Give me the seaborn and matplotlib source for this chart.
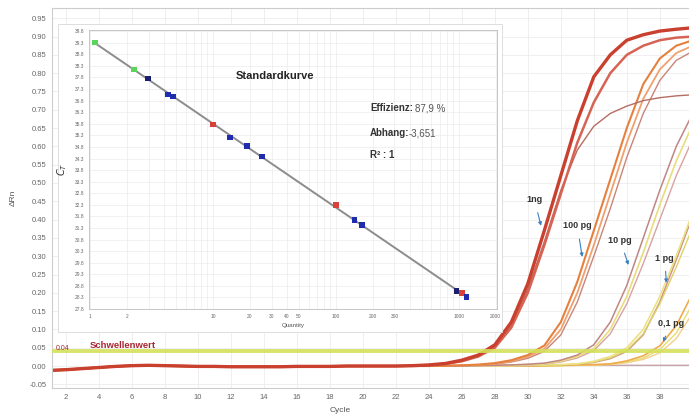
import matplotlib
matplotlib.use("Agg")
import pandas as pd
import matplotlib.pyplot as plt
from matplotlib.patches import Rectangle
import seaborn as sns

# ---------- amplification data (delta Rn per cycle) ----------
cycles = list(range(1, 41))
# cycles 1-22, common to all wells
baseline = [-0.012, -0.010, -0.007, -0.004, -0.001, 0.001, 0.002, 0.001, 0.0, -0.001, -0.001,
            -0.002, -0.002, -0.002, -0.002, -0.001, -0.001, -0.001, 0.0, 0.0, 0.0, 0.0]
# cycles 23-40
ng1_a = [0.001, 0.003, 0.007, 0.016, 0.030, 0.058, 0.12, 0.225, 0.37, 0.52, 0.67, 0.79, 0.85, 0.89, 0.905, 0.915, 0.92, 0.924]
ng1_b = [0.001, 0.002, 0.006, 0.013, 0.026, 0.050, 0.105, 0.20, 0.33, 0.47, 0.61, 0.72, 0.80, 0.85, 0.875, 0.89, 0.897, 0.90]
ng1_c = [0.001, 0.003, 0.007, 0.015, 0.028, 0.052, 0.11, 0.21, 0.34, 0.48, 0.59, 0.655, 0.69, 0.71, 0.725, 0.733, 0.738, 0.741]
pg100_a = [0.0, 0.0, 0.001, 0.002, 0.004, 0.008, 0.016, 0.030, 0.056, 0.12, 0.23, 0.37, 0.51, 0.65, 0.77, 0.84, 0.875, 0.89]
pg100_b = [0.0, 0.0, 0.001, 0.002, 0.003, 0.006, 0.013, 0.025, 0.047, 0.10, 0.20, 0.33, 0.47, 0.61, 0.73, 0.81, 0.855, 0.875]
pg100_c = [0.0, 0.0, 0.001, 0.001, 0.003, 0.005, 0.011, 0.021, 0.040, 0.085, 0.175, 0.30, 0.43, 0.57, 0.69, 0.78, 0.835, 0.86]
pg10_a = [0.0, 0.0, 0.0, 0.0, 0.001, 0.002, 0.003, 0.005, 0.008, 0.016, 0.030, 0.058, 0.12, 0.22, 0.35, 0.48, 0.60, 0.69]
pg10_b = [0.0, 0.0, 0.0, 0.0, 0.0, 0.001, 0.002, 0.004, 0.006, 0.013, 0.026, 0.048, 0.10, 0.19, 0.31, 0.44, 0.56, 0.66]
pg10_c = [0.0, 0.0, 0.0, 0.0, 0.0, 0.001, 0.002, 0.003, 0.005, 0.011, 0.022, 0.042, 0.088, 0.17, 0.28, 0.40, 0.52, 0.62]
pg1_a = [0.0, 0.0, 0.0, 0.0, 0.0, 0.0, 0.001, 0.002, 0.003, 0.004, 0.006, 0.013, 0.026, 0.050, 0.10, 0.19, 0.30, 0.42]
pg1_b = [0.0, 0.0, 0.0, 0.0, 0.0, 0.0, 0.0, 0.001, 0.002, 0.003, 0.005, 0.011, 0.022, 0.043, 0.088, 0.17, 0.27, 0.38]
pg1_c = [0.0, 0.0, 0.0, 0.0, 0.0, 0.0, 0.0, 0.001, 0.002, 0.003, 0.005, 0.010, 0.020, 0.040, 0.085, 0.175, 0.29, 0.41]
pg01_a = [0.0, 0.0, 0.0, 0.0, 0.0, 0.0, 0.0, 0.0, 0.001, 0.002, 0.003, 0.004, 0.006, 0.014, 0.028, 0.055, 0.11, 0.20]
pg01_b = [0.0, 0.0, 0.0, 0.0, 0.0, 0.0, 0.0, 0.0, 0.0, 0.001, 0.002, 0.003, 0.005, 0.011, 0.022, 0.045, 0.09, 0.17]
pg01_c = [0.0, 0.0, 0.0, 0.0, 0.0, 0.0, 0.0, 0.0, 0.0, 0.001, 0.002, 0.003, 0.004, 0.009, 0.018, 0.036, 0.075, 0.145]
ntc = [0.0, 0.0, 0.001, 0.001, 0.001, 0.002, 0.002, 0.002, 0.002, 0.002, 0.002, 0.002, 0.002, 0.002, 0.002, 0.002, 0.002, 0.002]

threshold = 0.04

# ---------- standard curve (inset) ----------
quantity = [1.1, 2.28, 2.97, 4.31, 4.73, 10, 13.7, 18.9, 25.0, 100, 142, 164, 958, 1060, 1160]
ct = [39.31, 38.14, 37.76, 37.07, 36.98, 35.77, 35.21, 34.83, 34.39, 32.28, 31.64, 31.42, 28.58, 28.49, 28.32]
point_kind = ["g", "g", "n", "b", "b", "r", "b", "b", "b", "r", "b", "b", "n", "r", "b"]
inset_xticks = [1, 2, 10, 20, 30, 40, 50, 100, 200, 300, 1000, 2000]
inset_yticks = [27.8 + 0.5 * i for i in range(25)]

sns.set_style("white")
plt.rcParams["font.family"] = ["Liberation Sans", "DejaVu Sans"]

curves = [
    ("ntc", ntc, "#c9a3ab", 1.0),
    ("pg01_c", pg01_c, "#f3cf8e", 1.0),
    ("pg01_b", pg01_b, "#e8dc70", 1.0),
    ("pg01_a", pg01_a, "#efab4c", 1.2),
    ("pg1_c", pg1_c, "#cf8c80", 1.0),
    ("pg1_b", pg1_b, "#dcd16a", 1.0),
    ("pg1_a", pg1_a, "#ebe283", 1.2),
    ("pg10_c", pg10_c, "#d9a2a2", 1.0),
    ("pg10_b", pg10_b, "#e7dd7d", 1.2),
    ("pg10_a", pg10_a, "#c08585", 1.1),
    ("pg100_c", pg100_c, "#c98579", 1.0),
    ("pg100_b", pg100_b, "#f0a06e", 1.3),
    ("pg100_a", pg100_a, "#e5803f", 1.5),
    ("ng1_c", ng1_c, "#b56d63", 1.0),
    ("ng1_b", ng1_b, "#d66353", 1.8),
    ("ng1_a", ng1_a, "#c9402f", 2.4),
]

rows = []
for name, vals, col, lw in curves:
    for c, v in zip(cycles, baseline + vals):
        rows.append({"curve": name, "cycle": c, "dRn": v})
df = pd.DataFrame(rows)

fig = plt.figure(figsize=(6.89, 4.15), dpi=100)
ax = fig.add_axes([52 / 689, 27 / 415, 649 / 689, 380 / 415])

for name, vals, col, lw in curves:
    sns.lineplot(data=df[df["curve"] == name], x="cycle", y="dRn", color=col, lw=lw, ax=ax)

ax.axhline(threshold, color="#d3e05a", lw=2.8, alpha=0.9, zorder=3)

ax.set_xlim(1.15, 40.5)
ax.set_ylim(-0.06, 0.978)
ax.set_xticks(range(2, 39, 2))
ax.set_yticks([i * 0.05 for i in range(-1, 20)])
ax.set_yticklabels([f"{i * 0.05:.2f}" for i in range(-1, 20)])
ax.tick_params(labelsize=5.5, colors="#666666", length=2, width=0.5, pad=2)
ax.grid(True, color="#ececec", lw=0.6)
for s in ax.spines.values():
    s.set_color("#cccccc")
    s.set_linewidth(0.8)
ax.set_xlabel("Cycle", fontsize=6, color="#555555")
ax.set_ylabel("ΔRn", fontsize=6, color="#555555")
ax.xaxis.set_label_coords((340 - 52) / 649, -0.05)
ax.yaxis.set_label_coords(-0.055, 0.5)

ax.text(3.45, 0.056, "Schwellenwert", color="#a82630", fontsize=6.8, fontweight="bold", va="center")
ax.text(1.4, 0.047, "0.04", color="#a82630", fontsize=5, va="center")

arrow = dict(arrowstyle="-|>", color="#3d80c2", lw=0.8, mutation_scale=5, shrinkA=4, shrinkB=0)
labels = [("1ng", (30.8, 0.383), (30.4, 0.455)),
          ("100 pg", (33.3, 0.298), (33.0, 0.383)),
          ("10 pg", (36.1, 0.276), (35.6, 0.344)),
          ("1 pg", (38.4, 0.227), (38.3, 0.295)),
          ("0,1 pg", (38.2, 0.066), (38.7, 0.117))]
for txt, tip, pos in labels:
    ax.annotate(txt, xy=tip, xytext=pos, fontsize=6.5, fontweight="bold", color="#333333",
                ha="center", va="center", arrowprops=arrow, zorder=6)

# white panel behind the inset
fig.add_artist(Rectangle((58 / 689, 1 - 332 / 415), 444 / 689, 308 / 415, transform=fig.transFigure,
                         facecolor="white", edgecolor="#d8d8d8", lw=0.6, zorder=1))

axi = fig.add_axes([89 / 689, 1 - 309 / 415, 408 / 689, 279 / 415], zorder=2)
axi.set_xscale("log")
sns.regplot(x=quantity, y=ct, logx=True, scatter=False, ci=None, color="#8c8c8c",
            line_kws={"lw": 1.4}, ax=axi)
sns.scatterplot(x=quantity, y=ct, hue=point_kind, marker="s", s=16, edgecolor="none", legend=False,
                palette={"g": "#5bd45b", "b": "#1f2cb0", "n": "#1b1f70", "r": "#d8403a"}, ax=axi, zorder=3)
axi.set_xlim(0.98, 2050)
axi.set_ylim(27.8, 39.85)
axi.set_xticks(inset_xticks)
axi.set_xticklabels([str(t) for t in inset_xticks])
axi.xaxis.set_minor_formatter(plt.NullFormatter())
axi.set_yticks(inset_yticks)
axi.set_yticklabels([f"{t:.1f}" for t in inset_yticks])
axi.tick_params(labelsize=3.5, colors="#666666", length=1.5, width=0.4, pad=2)
axi.tick_params(which="minor", length=0)
axi.grid(True, which="both", color="#ebebeb", lw=0.5)
for s in axi.spines.values():
    s.set_color("#bdbdbd")
    s.set_linewidth(0.6)
axi.set_xlabel("Quantity", fontsize=4.5, color="#555555", labelpad=3)
axi.set_ylabel("$C_T$", fontsize=7, color="#333333", labelpad=4)

axi.text(0.456, 0.835, "Standardkurve", transform=axi.transAxes, fontsize=8, fontweight="bold",
         color="#222222", ha="center", va="center")
axi.text(0.689, 0.72, "Effizienz:", transform=axi.transAxes, fontsize=7, fontweight="bold",
         color="#333333", va="center")
axi.text(0.80, 0.72, "87,9 %", transform=axi.transAxes, fontsize=7, color="#555555", va="center")
axi.text(0.689, 0.63, "Abhang:", transform=axi.transAxes, fontsize=7, fontweight="bold",
         color="#333333", va="center")
axi.text(0.784, 0.63, "-3,651", transform=axi.transAxes, fontsize=7, color="#555555", va="center")
axi.text(0.689, 0.552, "R² : 1", transform=axi.transAxes, fontsize=7, fontweight="bold",
         color="#333333", va="center")

fig.savefig("out.png", dpi=100)
